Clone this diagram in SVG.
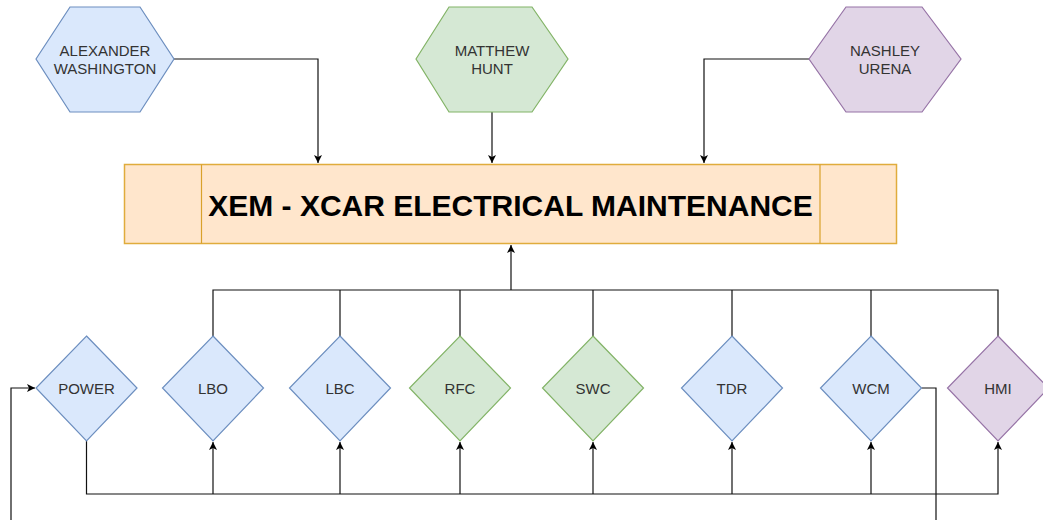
<svg xmlns="http://www.w3.org/2000/svg" width="1043" height="520" viewBox="0 0 1043 520">
  <style>
    .blue { fill: #dae8fc; stroke: #6c8ebf; stroke-width: 1.2; }
    .green { fill: #d5e8d4; stroke: #82b366; stroke-width: 1.2; }
    .purple { fill: #e1d5e7; stroke: #9673a6; stroke-width: 1.2; }
    .orange { fill: #ffe6cc; stroke: #e0ac3c; stroke-width: 1.5; }
    .lbl { font-family: "Liberation Sans", Arial, sans-serif; font-size: 15px; fill: #333333; text-anchor: middle; }
    .title { font-family: "Liberation Sans", Arial, sans-serif; font-size: 30px; font-weight: bold; fill: #000000; text-anchor: middle; }
    .edge { fill: none; stroke: #111111; stroke-width: 1.2; }
  </style>
  <defs>
    <marker id="arrow" viewBox="0 0 10 10" refX="10" refY="5" markerWidth="9" markerHeight="8" markerUnits="userSpaceOnUse" orient="auto">
      <path d="M0,0 L10,5 L0,10 L2.5,5 z" fill="#000000"/>
    </marker>
  </defs>

  <rect width="1043" height="520" fill="#ffffff"/>

  <!-- connectors -->
  <g id="connectors">
    <path class="edge" d="M174,59 H318 V163" marker-end="url(#arrow)"/>
    <path class="edge" d="M492,112 V163" marker-end="url(#arrow)"/>
    <path class="edge" d="M809,59 H704 V163" marker-end="url(#arrow)"/>

    <!-- upper bus into the main block -->
    <path class="edge" d="M213,336 V290 H998 V336"/>
    <path class="edge" d="M340,336 V290"/>
    <path class="edge" d="M460,336 V290"/>
    <path class="edge" d="M593,336 V290"/>
    <path class="edge" d="M732,336 V290"/>
    <path class="edge" d="M871,336 V290"/>
    <path class="edge" d="M511,290 V245" marker-end="url(#arrow)"/>

    <!-- lower bus from POWER -->
    <path class="edge" d="M86.5,441 V494 H998 V442" marker-end="url(#arrow)"/>
    <path class="edge" d="M213,494 V442" marker-end="url(#arrow)"/>
    <path class="edge" d="M340,494 V442" marker-end="url(#arrow)"/>
    <path class="edge" d="M460,494 V442" marker-end="url(#arrow)"/>
    <path class="edge" d="M593,494 V442" marker-end="url(#arrow)"/>
    <path class="edge" d="M732,494 V442" marker-end="url(#arrow)"/>
    <path class="edge" d="M871,494 V442" marker-end="url(#arrow)"/>

    <!-- WCM feedback loop to POWER -->
    <path class="edge" d="M921.5,388 H936 V535 H11 V388 H35" marker-end="url(#arrow)"/>
  </g>

  <!-- people -->
  <g id="alexander">
    <polygon class="blue" points="36,59 70,7 140,7 174,59 140,112 70,112"/>
    <text class="lbl" x="105" y="56">ALEXANDER</text>
    <text class="lbl" x="105" y="74">WASHINGTON</text>
  </g>
  <g id="matthew">
    <polygon class="green" points="416,59 449,7 532,7 568,59 532,112 449,112"/>
    <text class="lbl" x="492" y="56">MATTHEW</text>
    <text class="lbl" x="492" y="74">HUNT</text>
  </g>
  <g id="nashley">
    <polygon class="purple" points="809,59 846,7 922,7 961,59 922,112 846,112"/>
    <text class="lbl" x="885" y="56">NASHLEY</text>
    <text class="lbl" x="885" y="74">URENA</text>
  </g>

  <!-- main process block -->
  <g id="xem">
    <rect class="orange" x="124.5" y="164.5" width="772" height="79"/>
    <line x1="201.5" y1="164.5" x2="201.5" y2="243.5" stroke="#d9a12a" stroke-width="1.2"/>
    <line x1="820" y1="164.5" x2="820" y2="243.5" stroke="#d9a12a" stroke-width="1.2"/>
    <text class="title" x="510.5" y="216">XEM - XCAR ELECTRICAL MAINTENANCE</text>
  </g>

  <!-- modules -->
  <g id="power">
    <polygon class="blue" points="86.5,336 137,388 86.5,441 36,388"/>
    <text class="lbl" x="86.5" y="394">POWER</text>
  </g>
  <g id="lbo">
    <polygon class="blue" points="213,336 263.5,388 213,441 162.5,388"/>
    <text class="lbl" x="213" y="394">LBO</text>
  </g>
  <g id="lbc">
    <polygon class="blue" points="340,336 390.5,388 340,441 289.5,388"/>
    <text class="lbl" x="340" y="394">LBC</text>
  </g>
  <g id="rfc">
    <polygon class="green" points="460,336 510.5,388 460,441 409.5,388"/>
    <text class="lbl" x="460" y="394">RFC</text>
  </g>
  <g id="swc">
    <polygon class="green" points="593,336 643.5,388 593,441 542.5,388"/>
    <text class="lbl" x="593" y="394">SWC</text>
  </g>
  <g id="tdr">
    <polygon class="blue" points="732,336 782.5,388 732,441 681.5,388"/>
    <text class="lbl" x="732" y="394">TDR</text>
  </g>
  <g id="wcm">
    <polygon class="blue" points="871,336 921.5,388 871,441 820.5,388"/>
    <text class="lbl" x="871" y="394">WCM</text>
  </g>
  <g id="hmi">
    <polygon class="purple" points="998,336 1048.5,388 998,441 947.5,388"/>
    <text class="lbl" x="998" y="394">HMI</text>
  </g>
</svg>
